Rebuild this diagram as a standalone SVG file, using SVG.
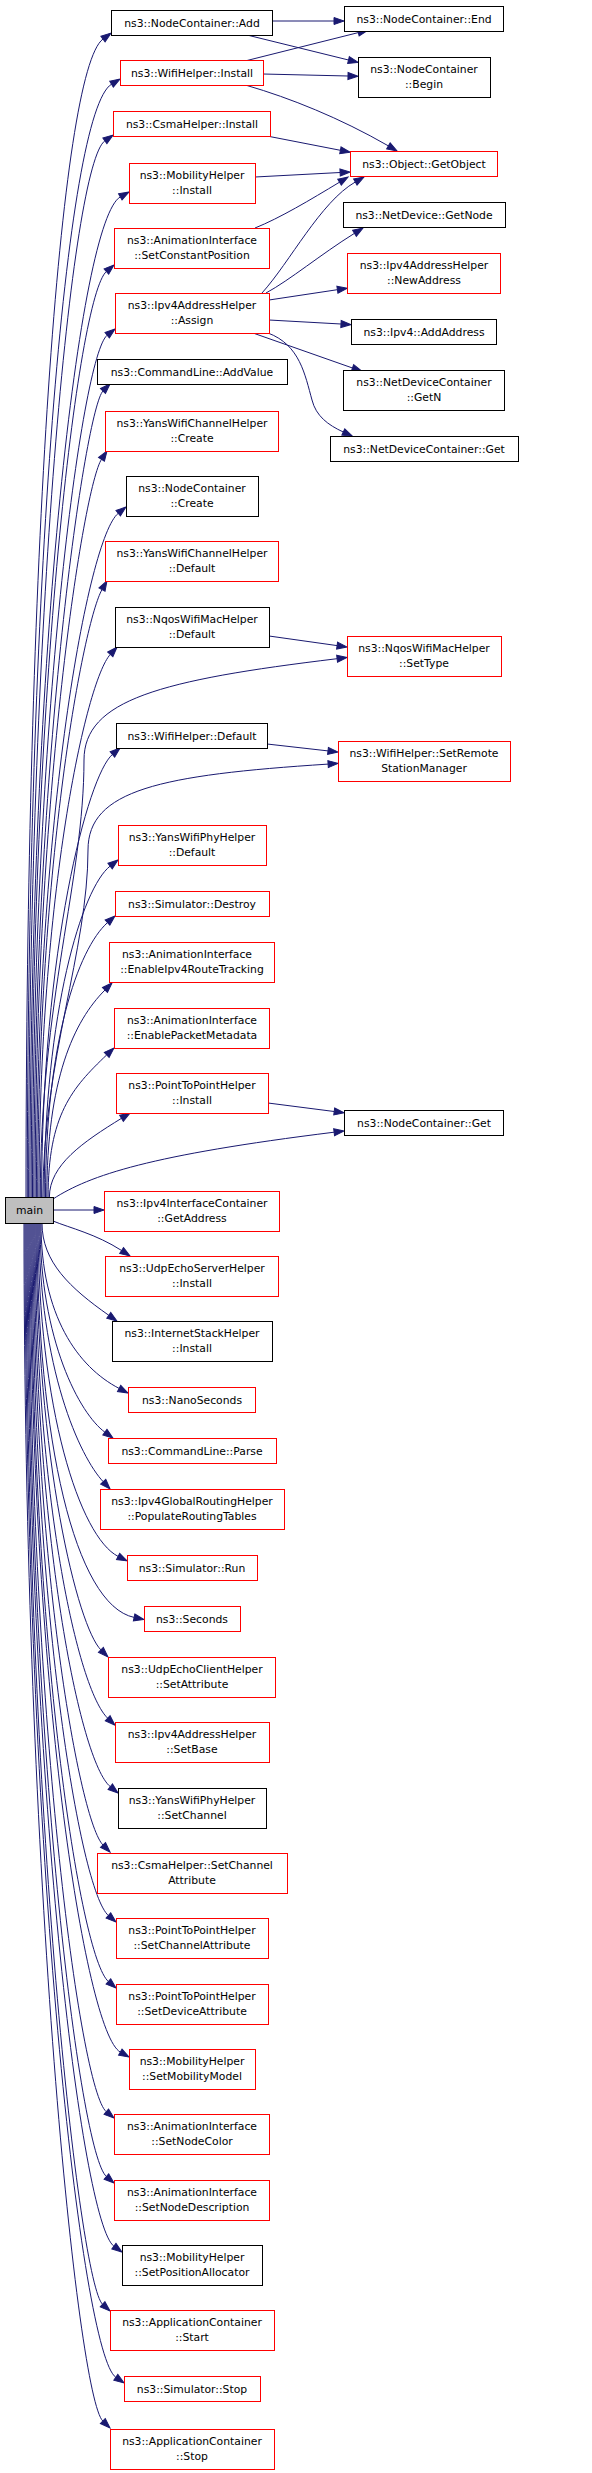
<svg xmlns="http://www.w3.org/2000/svg" width="592" height="2473" viewBox="0 0 592 2473">
<style>
rect{fill:#fff;stroke:#000;stroke-width:1}
rect.r{stroke:#ff0000}
rect.m{fill:#bfbfbf}
text{font-family:"DejaVu Sans","Liberation Sans",sans-serif;font-size:10.8px;text-anchor:middle;fill:#000}
#edges path{fill:none;stroke:#191970;stroke-width:1;marker-end:url(#ah)}
</style>
<defs>
<marker id="ah" viewBox="0 0 10 7" refX="0" refY="3.5" markerWidth="10" markerHeight="7" markerUnits="userSpaceOnUse" orient="auto" overflow="visible"><path d="M0,0 L10,3.5 L0,7 Z" fill="#191970" stroke="#191970" stroke-width="1"/></marker>
</defs>
<rect x="0" y="0" width="592" height="2473" style="fill:#fff;stroke:none"/>
<g id="edges">
<path d="M26,1197 C26,557 60,71 103,39"/>
<path d="M27.3,1197 C27.3,582 66,112 111.5,84.2"/>
<path d="M28.6,1197 C28.6,613 72,164 104.9,140.8"/>
<path d="M29.9,1197 C29.9,644 80,220 120.3,196.9"/>
<path d="M31.2,1197 C31.2,684 78,296 106.4,271.5"/>
<path d="M32.5,1197 C32.5,720 82,355 107.2,335.2"/>
<path d="M33.8,1197 C33.8,750 86,408 103,391"/>
<path d="M35.1,1197 C35.1,787 84,486 101.5,459.3"/>
<path d="M36.4,1197 C36.4,817 88,538 118.2,513.3"/>
<path d="M37.7,1197 C37.7,858 84,621 102,589.6"/>
<path d="M39,1197 C39,894 86,681 110.3,654.4"/>
<path d="M40.3,1197 C40.3,1000 84,880 84,760 C84,700 160,680 337.1,658.7"/>
<path d="M41.6,1197 C41.6,950 88,775 112.4,754.5"/>
<path d="M42.9,1197 C42.9,1060 88,950 88,850 C88,790 160,775 328.1,764.1"/>
<path d="M44.2,1197 C44.2,1012 82,888 110.1,866.1"/>
<path d="M45.5,1197 C45.5,1042 78,949 107.5,922.6"/>
<path d="M46.8,1197 C46.8,1079 74,1021 105,990"/>
<path d="M48.1,1197 C48.1,1115 72,1088 106.7,1054.9"/>
<path d="M49.4,1197 C49.4,1165 83,1142 121.5,1118.3"/>
<path d="M53,1199 C90,1175 150,1155 334.1,1132.2"/>
<path d="M53,1210 L94,1210"/>
<path d="M53,1221 C70,1228 96,1234 121.6,1250.5"/>
<path d="M42,1223 C42,1262 70,1288 108.8,1315.3"/>
<path d="M41,1223 C41,1316 78,1367 119.1,1388.4"/>
<path d="M40,1223 C40,1341 80,1414 104.9,1432.2"/>
<path d="M39,1223 C39,1369 80,1457 103.2,1481.7"/>
<path d="M38,1223 C38,1409 80,1537 118.1,1556.4"/>
<path d="M37,1223 C37,1440 75,1605 134.1,1617.4"/>
<path d="M36,1223 C36,1462 78,1627 100.9,1649.9"/>
<path d="M35,1223 C35,1499 78,1690 107.7,1718.2"/>
<path d="M34,1223 C34,1537 80,1762 110.3,1786.7"/>
<path d="M33,1223 C33,1569 80,1822 103,1845"/>
<path d="M32,1223 C32,1607 80,1891 108.4,1915.5"/>
<path d="M31,1223 C31,1644 80,1957 108.4,1981.5"/>
<path d="M30,1223 C30,1682 85,2032 120.3,2052.1"/>
<path d="M29,1223 C29,1715 80,2090 106.3,2111.7"/>
<path d="M28,1223 C28,1751 80,2154 106.4,2176.5"/>
<path d="M27,1223 C27,1789 82,2223 113.9,2246.2"/>
<path d="M26,1223 C26,1821 80,2284 102.6,2304.3"/>
<path d="M25,1223 C25,1861 82,2354 115.8,2377.3"/>
<path d="M24,1223 C24,1886 78,2397 102.8,2421"/>
<path d="M272,21 L334,21"/>
<path d="M247,35 L348.5,60"/>
<path d="M247,60.5 L358.3,32.6"/>
<path d="M263,74 L348,76"/>
<path d="M247,85.5 C290,98 340,118 388.4,145.9"/>
<path d="M267,136 L340.4,150.3"/>
<path d="M255,177 L340.1,172.5"/>
<path d="M255,228 C280,218 310,200 339.5,182.2"/>
<path d="M262,293 C290,262 320.5,202 355.3,182"/>
<path d="M266,293 C290,280 320.5,254.5 354.5,233.3"/>
<path d="M269,300 L337.4,289.7"/>
<path d="M269,320 L341,324"/>
<path d="M253,333 L352.5,368"/>
<path d="M268,333 C300,345 305,375 312,400 C316,416 328,425 343.3,432"/>
<path d="M269,636 L337.1,645.6"/>
<path d="M267,744 L328,750.9"/>
<path d="M268,1103 L334.2,1111.5"/>
</g>
<g id="n1"><rect x="111.5" y="10.5" width="161" height="25"/><text x="192" y="26.5">ns3::NodeContainer::Add</text></g>
<g id="n2"><rect x="344.5" y="6.5" width="159" height="25"/><text x="424" y="22.5">ns3::NodeContainer::End</text></g>
<g id="n3"><rect class="r" x="120.5" y="60.5" width="143" height="25"/><text x="192" y="76.5">ns3::WifiHelper::Install</text></g>
<g id="n4"><rect x="358.5" y="57.5" width="132" height="40"/><text x="424" y="73">ns3::NodeContainer</text><text x="424" y="88">::Begin</text></g>
<g id="n5"><rect class="r" x="113.5" y="111.5" width="157" height="25"/><text x="192" y="127.5">ns3::CsmaHelper::Install</text></g>
<g id="n6"><rect class="r" x="350.5" y="151.5" width="147" height="25"/><text x="424" y="167.5">ns3::Object::GetObject</text></g>
<g id="n7"><rect class="r" x="129.5" y="163.5" width="126" height="40"/><text x="192" y="179">ns3::MobilityHelper</text><text x="192" y="194">::Install</text></g>
<g id="n8"><rect x="343.5" y="202.5" width="162" height="25"/><text x="424" y="218.5">ns3::NetDevice::GetNode</text></g>
<g id="n9"><rect class="r" x="114.5" y="228.5" width="155" height="40"/><text x="192" y="244">ns3::AnimationInterface</text><text x="192" y="259">::SetConstantPosition</text></g>
<g id="n10"><rect class="r" x="347.5" y="253.5" width="153" height="40"/><text x="424" y="269">ns3::Ipv4AddressHelper</text><text x="424" y="284">::NewAddress</text></g>
<g id="n11"><rect class="r" x="115.5" y="293.5" width="154" height="40"/><text x="192" y="309">ns3::Ipv4AddressHelper</text><text x="192" y="324">::Assign</text></g>
<g id="n12"><rect x="351.5" y="319.5" width="145" height="25"/><text x="424" y="335.5">ns3::Ipv4::AddAddress</text></g>
<g id="n13"><rect x="97.5" y="359.5" width="190" height="25"/><text x="192" y="375.5">ns3::CommandLine::AddValue</text></g>
<g id="n14"><rect x="343.5" y="370.5" width="161" height="40"/><text x="424" y="386">ns3::NetDeviceContainer</text><text x="424" y="401">::GetN</text></g>
<g id="n15"><rect class="r" x="105.5" y="411.5" width="173" height="40"/><text x="192" y="427">ns3::YansWifiChannelHelper</text><text x="192" y="442">::Create</text></g>
<g id="n16"><rect x="330.5" y="436.5" width="188" height="25"/><text x="424" y="452.5">ns3::NetDeviceContainer::Get</text></g>
<g id="n17"><rect x="126.5" y="476.5" width="132" height="40"/><text x="192" y="492">ns3::NodeContainer</text><text x="192" y="507">::Create</text></g>
<g id="n18"><rect class="r" x="105.5" y="541.5" width="173" height="40"/><text x="192" y="557">ns3::YansWifiChannelHelper</text><text x="192" y="572">::Default</text></g>
<g id="n19"><rect x="115.5" y="607.5" width="154" height="40"/><text x="192" y="623">ns3::NqosWifiMacHelper</text><text x="192" y="638">::Default</text></g>
<g id="n20"><rect class="r" x="347.5" y="636.5" width="154" height="40"/><text x="424" y="652">ns3::NqosWifiMacHelper</text><text x="424" y="667">::SetType</text></g>
<g id="n21"><rect x="116.5" y="723.5" width="151" height="25"/><text x="192" y="739.5">ns3::WifiHelper::Default</text></g>
<g id="n22"><rect class="r" x="338.5" y="741.5" width="172" height="40"/><text x="424" y="757">ns3::WifiHelper::SetRemote</text><text x="424" y="772">StationManager</text></g>
<g id="n23"><rect class="r" x="118.5" y="825.5" width="148" height="40"/><text x="192" y="841">ns3::YansWifiPhyHelper</text><text x="192" y="856">::Default</text></g>
<g id="n24"><rect class="r" x="115.5" y="891.5" width="154" height="25"/><text x="192" y="907.5">ns3::Simulator::Destroy</text></g>
<g id="n25"><rect class="r" x="109.5" y="942.5" width="165" height="40"/><text x="187" y="958">ns3::AnimationInterface</text><text x="192" y="973">::EnableIpv4RouteTracking</text></g>
<g id="n26"><rect class="r" x="114.5" y="1008.5" width="155" height="40"/><text x="192" y="1024">ns3::AnimationInterface</text><text x="192" y="1039">::EnablePacketMetadata</text></g>
<g id="n27"><rect class="r" x="116.5" y="1073.5" width="152" height="40"/><text x="192" y="1089">ns3::PointToPointHelper</text><text x="192" y="1104">::Install</text></g>
<g id="n28"><rect x="344.5" y="1110.5" width="159" height="25"/><text x="424" y="1126.5">ns3::NodeContainer::Get</text></g>
<g id="n29"><rect class="m" x="5.5" y="1197.5" width="48" height="26"/><text x="29.5" y="1214">main</text></g>
<g id="n30"><rect class="r" x="104.5" y="1191.5" width="175" height="40"/><text x="192" y="1207">ns3::Ipv4InterfaceContainer</text><text x="192" y="1222">::GetAddress</text></g>
<g id="n31"><rect class="r" x="105.5" y="1256.5" width="173" height="40"/><text x="192" y="1272">ns3::UdpEchoServerHelper</text><text x="192" y="1287">::Install</text></g>
<g id="n32"><rect x="112.5" y="1321.5" width="160" height="40"/><text x="192" y="1337">ns3::InternetStackHelper</text><text x="192" y="1352">::Install</text></g>
<g id="n33"><rect class="r" x="128.5" y="1387.5" width="127" height="25"/><text x="192" y="1403.5">ns3::NanoSeconds</text></g>
<g id="n34"><rect class="r" x="108.5" y="1438.5" width="168" height="25"/><text x="192" y="1454.5">ns3::CommandLine::Parse</text></g>
<g id="n35"><rect class="r" x="100.5" y="1489.5" width="184" height="40"/><text x="192" y="1505">ns3::Ipv4GlobalRoutingHelper</text><text x="192" y="1520">::PopulateRoutingTables</text></g>
<g id="n36"><rect class="r" x="127.5" y="1555.5" width="130" height="25"/><text x="192" y="1571.5">ns3::Simulator::Run</text></g>
<g id="n37"><rect class="r" x="144.5" y="1606.5" width="96" height="25"/><text x="192" y="1622.5">ns3::Seconds</text></g>
<g id="n38"><rect class="r" x="108.5" y="1657.5" width="167" height="40"/><text x="192" y="1673">ns3::UdpEchoClientHelper</text><text x="192" y="1688">::SetAttribute</text></g>
<g id="n39"><rect class="r" x="115.5" y="1722.5" width="154" height="40"/><text x="192" y="1738">ns3::Ipv4AddressHelper</text><text x="192" y="1753">::SetBase</text></g>
<g id="n40"><rect x="118.5" y="1788.5" width="148" height="40"/><text x="192" y="1804">ns3::YansWifiPhyHelper</text><text x="192" y="1819">::SetChannel</text></g>
<g id="n41"><rect class="r" x="97.5" y="1853.5" width="190" height="40"/><text x="192" y="1869">ns3::CsmaHelper::SetChannel</text><text x="192" y="1884">Attribute</text></g>
<g id="n42"><rect class="r" x="116.5" y="1918.5" width="152" height="40"/><text x="192" y="1934">ns3::PointToPointHelper</text><text x="192" y="1949">::SetChannelAttribute</text></g>
<g id="n43"><rect class="r" x="116.5" y="1984.5" width="152" height="40"/><text x="192" y="2000">ns3::PointToPointHelper</text><text x="192" y="2015">::SetDeviceAttribute</text></g>
<g id="n44"><rect class="r" x="129.5" y="2049.5" width="126" height="40"/><text x="192" y="2065">ns3::MobilityHelper</text><text x="192" y="2080">::SetMobilityModel</text></g>
<g id="n45"><rect class="r" x="114.5" y="2114.5" width="155" height="40"/><text x="192" y="2130">ns3::AnimationInterface</text><text x="192" y="2145">::SetNodeColor</text></g>
<g id="n46"><rect class="r" x="114.5" y="2180.5" width="155" height="40"/><text x="192" y="2196">ns3::AnimationInterface</text><text x="192" y="2211">::SetNodeDescription</text></g>
<g id="n47"><rect x="122.5" y="2245.5" width="140" height="40"/><text x="192" y="2261">ns3::MobilityHelper</text><text x="192" y="2276">::SetPositionAllocator</text></g>
<g id="n48"><rect class="r" x="110.5" y="2310.5" width="164" height="40"/><text x="192" y="2326">ns3::ApplicationContainer</text><text x="192" y="2341">::Start</text></g>
<g id="n49"><rect class="r" x="124.5" y="2376.5" width="136" height="25"/><text x="192" y="2392.5">ns3::Simulator::Stop</text></g>
<g id="n50"><rect class="r" x="110.5" y="2429.5" width="164" height="40"/><text x="192" y="2445">ns3::ApplicationContainer</text><text x="192" y="2460">::Stop</text></g>
</svg>
